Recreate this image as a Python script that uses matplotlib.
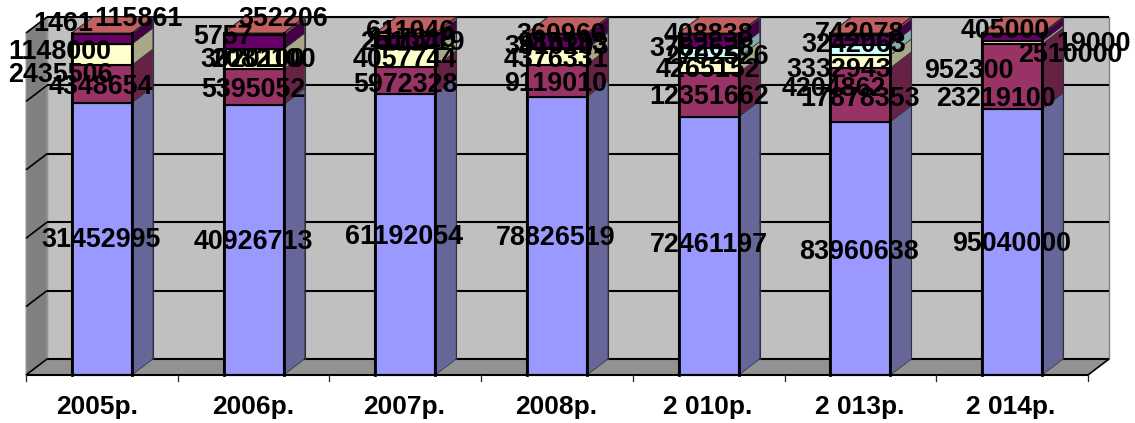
import matplotlib
matplotlib.use("Agg")
import matplotlib.pyplot as plt
from matplotlib.patches import Polygon
from matplotlib.transforms import IdentityTransform
import numpy as np

W, H = 1135, 423
categories = ["2005р.", "2006р.", "2007р.", "2008р.", "2 010р.", "2 013р.", "2 014р."]
s_blue = [31452995, 40926713, 61192054, 78826519, 72461197, 83960638, 95040000]
s_maroon = [4348654, 5395052, 5972328, 9119010, 12351662, 17878353, 23219100]
s_yellow = [2435506, 3020100, 4057744, 4376331, 4265152, 4204862, 952300]
s_cyan = [1461, 5757, 117319, 285133, 2702526, 3332943, 19000]
s_purple = [1148000, 2082100, 2510719, 3910203, 3782628, 3242063, 2510000]
s_salmon = [115861, 352206, 611046, 360960, 408838, 742078, 405000]
series = [s_blue, s_maroon, s_yellow, s_cyan, s_purple, s_salmon]

front = ["#9999FF", "#993366", "#FFFFCC", "#CCFFFF", "#660066", "#FF8080"]
side = ["#666699", "#662244", "#A8A888", "#88AAAA", "#440044", "#A05050"]
top_face = "#C06060"

# label centres in image pixels (x, y), per series then per category
lx = [[101, 253, 404, 556, 709, 859, 1012],
      [101, 253, 406, 556, 709, 860, 996],
      [60, 253, 405, 556, 708, 834, 969],
      [63, 223, 412, 562, 716, 839, 1093],
      [60, 263, 412, 557, 702, 854, 1070],
      [138, 283, 410, 561, 708, 860, 1005]]
ly = [[238, 240, 235, 236, 243, 250, 242],
      [85, 88, 83, 82, 95, 97, 97],
      [73, 58, 58, 58, 68, 87, 69],
      [22, 35, 38, 42, 55, 68, 42],
      [50, 58, 41, 45, 47, 43, 53],
      [17, 17, 30, 33, 33, 32, 29]]

fig = plt.figure(figsize=(W / 100, H / 100), dpi=100, facecolor="white")
L, R, B, T = 26, 1088, 375, 33
ax = fig.add_axes([L / W, 1 - B / H, (R - L) / W, (B - T) / H])
ax.set_xlim(-0.5, 6.5)
ax.set_ylim(0, 100)
ax.axis("off")

# depth of the 3D box, in data units
dx = 21 / ((R - L) / 7)
dy = 16 / ((B - T) / 100)
x0, x1 = -0.5, 6.5

def poly(pts, fc, ec="none", lw=0, z=1):
    ax.add_patch(Polygon(pts, closed=True, facecolor=fc, edgecolor=ec, linewidth=lw,
                         zorder=z, clip_on=False, joinstyle="miter"))

poly([(x0 + dx, dy), (x1 + dx, dy), (x1 + dx, 100 + dy), (x0 + dx, 100 + dy)], "#C0C0C0", "#808080", 1.0)
poly([(x0, 0), (x0 + dx, dy), (x0 + dx, 100 + dy), (x0, 100)], "#808080", "#A0A0A0", 0.8)
poly([(x0, 0), (x1, 0), (x1 + dx, dy), (x0 + dx, dy)], "#929292")

kw = dict(color="black", lw=1.5, clip_on=False, zorder=2, solid_capstyle="butt")
for g in range(0, 101, 20):
    ax.plot([x0 + dx, x1 + dx], [g + dy, g + dy], **kw)
    ax.plot([x0, x0 + dx], [g, g + dy], **{**kw, "lw": 1.2})
ax.plot([x1, x1 + dx], [0, dy], **{**kw, "lw": 1.2})
ax.plot([x0, x1], [0, 0], **{**kw, "zorder": 6})
for t in np.arange(0, 8):
    ax.plot([x0 + t, x0 + t], [0, -6 / 3.42], color="#222222", lw=0.9, clip_on=False, zorder=6)

vals = np.array(series, dtype=float)
pct = vals / vals.sum(axis=0) * 100
cum = np.vstack([np.zeros(7), np.cumsum(pct, axis=0)])
bw = 60 / ((R - L) / 7)
for i in range(7):
    a, b = i - bw / 2, i + bw / 2
    for k in range(6):
        lo, hi = cum[k, i], cum[k + 1, i]
        poly([(b, lo), (b + dx, lo + dy), (b + dx, hi + dy), (b, hi)], side[k], "#303040", 0.5, 3)
    for k in range(6):
        lo, hi = cum[k, i], cum[k + 1, i]
        poly([(a, lo), (b, lo), (b, hi), (a, hi)], front[k], "black", 1.5 if hi - lo > 0.5 else 0.8, 4)
    poly([(a, 100), (b, 100), (b + dx, 100 + dy), (a + dx, 100 + dy)], top_face, "#202020", 0.7, 4)
    ax.plot([b, b], [0, 100], color="black", lw=2.0, zorder=5, clip_on=False)
    ax.plot([a, a], [0, 100], color="black", lw=2.0, zorder=5, clip_on=False)
    ax.plot([b + dx, b + dx], [dy, 100 + dy], color="#303040", lw=0.8, zorder=5, clip_on=False)

font = dict(family="Liberation Sans", fontweight="bold", color="black")
for k in range(6):
    for i in range(7):
        fig.text(lx[k][i], H - ly[k][i] - 2, str(series[k][i]), transform=IdentityTransform(),
                 ha="center", va="center", fontsize=19.4, zorder=10, **font)

cat_x = [97, 253, 404, 556, 708, 860, 1011]
for xp, c in zip(cat_x, categories):
    fig.text(xp, H - 407, c, transform=IdentityTransform(), ha="center", va="center",
             fontsize=19, **font)

fig.savefig("out.png", dpi=100)
